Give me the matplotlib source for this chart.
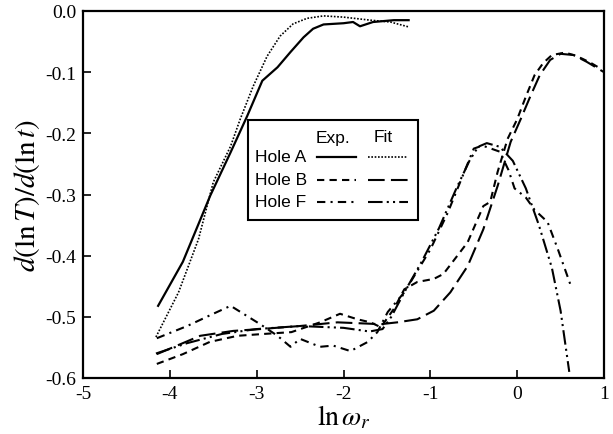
import matplotlib
matplotlib.use("Agg")
import matplotlib.pyplot as plt
from matplotlib.lines import Line2D

plt.rcParams['mathtext.fontset'] = 'stix'

# Hole A
a_exp_x = [-4.135, -3.85, -3.535, -3.30, -3.11, -2.935, -2.76, -2.61, -2.46, -2.35, -2.23, -2.0, -1.89, -1.81, -1.66, -1.42, -1.25]
a_exp_y = [-0.482, -0.41, -0.302, -0.231, -0.172, -0.114, -0.092, -0.067, -0.043, -0.029, -0.022, -0.020, -0.018, -0.025, -0.018, -0.015, -0.015]
a_fit_x = [-4.16, -3.9, -3.67, -3.50, -3.30, -3.19, -3.04, -2.88, -2.73, -2.58, -2.42, -2.23, -2.0, -1.69, -1.46, -1.25]
a_fit_y = [-0.533, -0.46, -0.373, -0.28, -0.221, -0.177, -0.123, -0.074, -0.041, -0.021, -0.012, -0.008, -0.010, -0.015, -0.018, -0.026]

# Hole B
b_exp_x = [-4.15, -3.85, -3.54, -3.22, -2.92, -2.6, -2.27, -2.04, -1.84, -1.69, -1.57, -1.42, -1.3, -1.15, -0.96, -0.85,
           -0.57, -0.39, -0.31, -0.225, -0.11, 0.0, 0.1, 0.2, 0.3, 0.4, 0.55, 0.65, 0.75, 0.85, 0.97]
b_exp_y = [-0.577, -0.561, -0.541, -0.531, -0.528, -0.525, -0.509, -0.495, -0.504, -0.509, -0.517, -0.487, -0.455, -0.443, -0.438, -0.43,
           -0.378, -0.319, -0.312, -0.263, -0.209, -0.177, -0.14, -0.105, -0.085, -0.072, -0.068, -0.072, -0.078, -0.085, -0.095]
b_fit_x = [-4.15, -3.65, -3.27, -2.96, -2.5, -2.07, -1.57, -1.38, -1.15, -0.96, -0.77, -0.57, -0.39, -0.225, -0.075, 0.04,
           0.15, 0.26, 0.38, 0.5, 0.65, 0.8, 1.0]
b_fit_y = [-0.561, -0.531, -0.523, -0.52, -0.515, -0.509, -0.512, -0.509, -0.504, -0.49, -0.46, -0.417, -0.357, -0.286, -0.214, -0.177,
           -0.14, -0.105, -0.08, -0.07, -0.072, -0.083, -0.1]

# Hole F
f_exp_x = [-4.15, -3.8, -3.5, -3.3, -2.96, -2.76, -2.61, -2.5, -2.27, -2.12, -1.92, -1.72, -1.61, -1.49, -1.3, -1.15, -1.0,
           -0.8, -0.6, -0.5, -0.4, -0.3, -0.2, -0.1, -0.03, 0.1, 0.2, 0.35, 0.47, 0.62]
f_exp_y = [-0.535, -0.515, -0.495, -0.482, -0.512, -0.531, -0.549, -0.536, -0.549, -0.547, -0.556, -0.541, -0.525, -0.492, -0.46, -0.425, -0.39,
           -0.33, -0.26, -0.225, -0.22, -0.225, -0.23, -0.26, -0.29, -0.305, -0.325, -0.345, -0.39, -0.45]
f_fit_x = [-4.16, -3.8, -3.4, -3.0, -2.5, -2.0, -1.7, -1.55, -1.45, -1.3, -1.1, -0.9, -0.7, -0.55, -0.45, -0.35, -0.2,
           -0.05, 0.1, 0.25, 0.4, 0.5, 0.6]
f_fit_y = [-0.56, -0.543, -0.528, -0.52, -0.515, -0.518, -0.524, -0.52, -0.5, -0.46, -0.41, -0.355, -0.29, -0.245, -0.222, -0.216, -0.222,
           -0.245, -0.29, -0.35, -0.42, -0.49, -0.59]

x_ticks = [-5, -4, -3, -2, -1, 0, 1]
x_labels = ['-5', '-4', '-3', '-2', '-1', '0', '1']
y_ticks = [0.0, -0.1, -0.2, -0.3, -0.4, -0.5, -0.6]
y_labels = ['0.0', '-0.1', '-0.2', '-0.3', '-0.4', '-0.5', '-0.6']

styles = {
    'a_exp': dict(color='black', lw=1.6, ls='-'),
    'a_fit': dict(color='black', lw=1.2, ls=(0, (1, 1))),
    'b_exp': dict(color='black', lw=1.5, ls=(0, (3.5, 2.5))),
    'b_fit': dict(color='black', lw=1.5, ls=(0, (8, 3))),
    'f_exp': dict(color='black', lw=1.5, ls=(0, (4, 2.5, 1, 2.5))),
    'f_fit': dict(color='black', lw=1.5, ls=(0, (7, 2, 1, 2, 1, 2))),
}

fig = plt.figure(figsize=(6.13, 4.35), dpi=100)
ax = fig.add_axes([83/613, 1-379/435, (604-83)/613, (379-12)/435])

ax.plot(a_exp_x, a_exp_y, **styles['a_exp'])
ax.plot(a_fit_x, a_fit_y, **styles['a_fit'])
ax.plot(b_exp_x, b_exp_y, **styles['b_exp'])
ax.plot(b_fit_x, b_fit_y, **styles['b_fit'])
ax.plot(f_exp_x, f_exp_y, **styles['f_exp'])
ax.plot(f_fit_x, f_fit_y, **styles['f_fit'])

ax.set_xlim(-5, 1)
ax.set_ylim(-0.6, 0.0)
ax.set_xticks(x_ticks)
ax.set_xticklabels(x_labels, fontfamily='Liberation Serif', fontsize=14)
ax.set_yticks(y_ticks)
ax.set_yticklabels(y_labels, fontfamily='Liberation Serif', fontsize=14)
ax.tick_params(direction='in', length=6, width=1.2, top=False, right=False, pad=5)
for s in ax.spines.values():
    s.set_linewidth(1.6)

ax.set_xlabel(r'$\ln\omega_r$', fontsize=20, labelpad=0)
ax.set_ylabel(r'$d(\ln T)/d(\ln t)$', fontsize=21, labelpad=2)

# custom legend table (in pixel-derived axes fractions)
def fx(px):
    return (px - 83) / 521
def fy(py):
    return (379 - py) / 367

box = plt.Rectangle((fx(248), fy(221)), fx(418) - fx(248), fy(121) - fy(221),
                    transform=ax.transAxes, fill=True, facecolor='white',
                    edgecolor='black', lw=1.5, zorder=5)
ax.add_patch(box)
tkw = dict(transform=ax.transAxes, fontfamily='Liberation Sans', fontsize=12.5, zorder=6, va='center')
ax.text(fx(333), fy(138), 'Exp.', ha='center', **tkw)
ax.text(fx(383), fy(138), 'Fit', ha='center', **tkw)
rows = [('Hole A', 'a_exp', 'a_fit', 158), ('Hole B', 'b_exp', 'b_fit', 181), ('Hole F', 'f_exp', 'f_fit', 203)]
for name, e, f, py in rows:
    ax.text(fx(255), fy(py), name, ha='left', **tkw)
    ax.add_line(Line2D([fx(317), fx(356)], [fy(py), fy(py)], transform=ax.transAxes, zorder=6, **styles[e]))
    ax.add_line(Line2D([fx(368), fx(408)], [fy(py), fy(py)], transform=ax.transAxes, zorder=6, **styles[f]))

fig.savefig('out.png', dpi=100)
